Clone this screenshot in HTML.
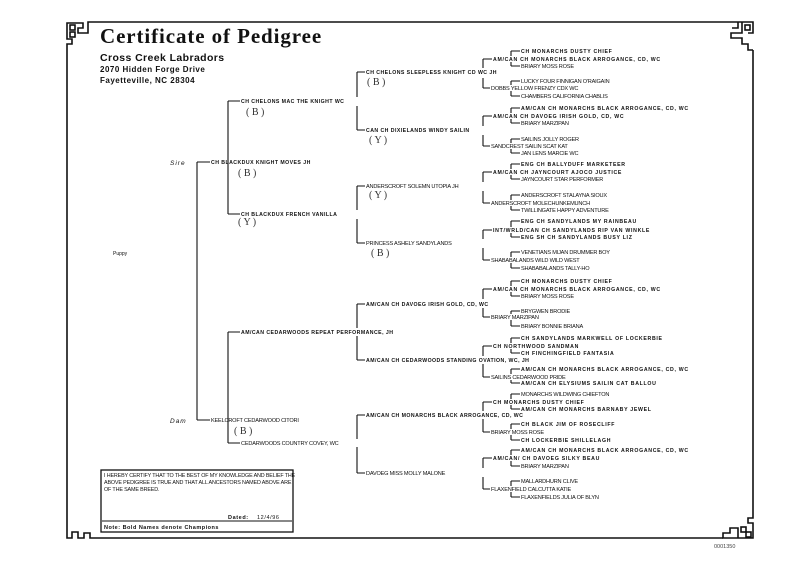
<!DOCTYPE html>
<html><head><meta charset="utf-8"><style>
html,body{margin:0;padding:0;background:#fff;}
svg{display:block}
text{font-family:"Liberation Sans",sans-serif;fill:#111;}
.b{font-size:5.2px;font-weight:bold;letter-spacing:0.45px;}
.c{font-size:5.2px;font-weight:bold;letter-spacing:0.7px;}
.r{font-size:5.6px;letter-spacing:-0.2px;}
.h{font-family:"Liberation Serif",serif;font-size:10px;fill:#333;}
</style></head><body>
<svg width="800" height="581" viewBox="0 0 800 581" xmlns="http://www.w3.org/2000/svg">
<g stroke="#111" fill="none" stroke-width="1.6">
<path d="M97 22 H738"/>
<path d="M67 50 V520"/>
<path d="M753 50 V512"/>
<path d="M95 538 H723"/>
<path d="M67 50 V44 H72 V39 H67 V23 H83 V28 H78 V33 H88 V22 H97"/>
<rect x="70" y="25" width="5" height="5"/><rect x="70" y="32" width="5" height="5"/>
<path d="M738 22 V28 H732 M738 22 H742 V33 H731 V38 H742 V44 H748 V50 H753 M742 22 H753 V33 H748"/>
<rect x="745" y="25" width="5" height="5"/>
<path d="M753 512 V518 H748 V523 H753 V538 H723 V533 H730 V528 H738 V538"/>
<rect x="741" y="527" width="5" height="5"/><rect x="746" y="532" width="5" height="5"/>
<path d="M67 520 V538 H72 V532 H78 V538 H84 V533 H90 V538 H95"/>
</g>
<text x="100" y="43" style="font-family:'Liberation Serif',serif;font-weight:bold;font-size:21px;letter-spacing:0.9px">Certificate of Pedigree</text>
<text x="100" y="61" style="font-size:10.5px;font-weight:bold;letter-spacing:0.4px">Cross Creek Labradors</text>
<text x="100" y="72" style="font-size:8px;font-weight:bold;letter-spacing:0.5px">2070 Hidden Forge Drive</text>
<text x="100" y="83" style="font-size:8px;font-weight:bold;letter-spacing:0.5px">Fayetteville,  NC  28304</text>
<text x="170" y="165" style="font-size:6.5px;font-style:italic;letter-spacing:1px">Sire</text>
<text x="170" y="423" style="font-size:6.5px;font-style:italic;letter-spacing:1px">Dam</text>
<text x="113" y="255" style="font-size:5px">Puppy</text>

<g stroke="#111" fill="none" stroke-width="1.1">
<path d="M197 162 V420 M197 162 H210 M197 420 H210"/>
<path d="M228 101 V214 M228 101 H240 M228 214 H240"/>
<path d="M228 332 V443 M228 332 H240 M228 443 H240"/>
<path d="M357 72 V97 M357 106 V130 M357 72 H365 M357 130 H365"/>
<path d="M357 186 V210 M357 219 V243 M357 186 H365 M357 243 H365"/>
<path d="M357 304 V328 M357 336 V360 M357 304 H365 M357 360 H365"/>
<path d="M357 415 V439 M357 447 V473 M357 415 H365 M357 473 H365"/>
<path d="M483 59 V68 M483 78 V88 M483 59 H492 M483 88 H490"/>
<path d="M483 116 V126 M483 135 V146 M483 116 H492 M483 146 H490"/>
<path d="M483 172 V182 M483 191 V203 M483 172 H492 M483 203 H490"/>
<path d="M483 230 V239 M483 248 V260 M483 230 H492 M483 260 H490"/>
<path d="M483 289 V299 M483 308 V317 M483 289 H492 M483 317 H490"/>
<path d="M483 346 V356 M483 364 V377 M483 346 H492 M483 377 H490"/>
<path d="M483 402 V411 M483 419 V432 M483 402 H492 M483 432 H490"/>
<path d="M483 458 V468 M483 477 V489 M483 458 H492 M483 489 H490"/>
<path d="M511 51 V56 M511 62 V66 M511 51 H520 M511 66 H520"/>
<path d="M511 81 V85 M511 91 V96 M511 81 H520 M511 96 H520"/>
<path d="M511 108 V113 M511 119 V123 M511 108 H520 M511 123 H520"/>
<path d="M511 139 V143 M511 149 V153 M511 139 H520 M511 153 H520"/>
<path d="M511 164 V169 M511 175 V179 M511 164 H520 M511 179 H520"/>
<path d="M511 195 V200 M511 206 V210 M511 195 H520 M511 210 H520"/>
<path d="M511 221 V227 M511 233 V237 M511 221 H520 M511 237 H520"/>
<path d="M511 252 V257 M511 263 V268 M511 252 H520 M511 268 H520"/>
<path d="M511 281 V286 M511 292 V296 M511 281 H520 M511 296 H520"/>
<path d="M511 311 V314 M511 320 V326 M511 311 H520 M511 326 H520"/>
<path d="M511 338 V343 M511 349 V353 M511 338 H520 M511 353 H520"/>
<path d="M511 369 V374 M511 380 V383 M511 369 H520 M511 383 H520"/>
<path d="M511 394 V399 M511 405 V409 M511 394 H520 M511 409 H520"/>
<path d="M511 424 V429 M511 435 V440 M511 424 H520 M511 440 H520"/>
<path d="M511 450 V455 M511 461 V466 M511 450 H520 M511 466 H520"/>
<path d="M511 481 V486 M511 492 V497 M511 481 H520 M511 497 H520"/>
</g>

<text class="b" x="211" y="164">CH BLACKDUX KNIGHT MOVES JH</text>
<text class="r" x="211" y="422">KEELCROFT CEDARWOOD CITORI</text>
<text class="b" x="241" y="103">CH CHELONS MAC THE KNIGHT WC</text>
<text class="b" x="241" y="216">CH BLACKDUX FRENCH VANILLA</text>
<text class="b" x="241" y="334">AM/CAN CEDARWOODS REPEAT PERFORMANCE, JH</text>
<text class="r" x="241" y="445">CEDARWOODS COUNTRY COVEY, WC</text>
<text class="b" x="366" y="74">CH CHELONS SLEEPLESS KNIGHT CD WC JH</text>
<text class="b" x="366" y="132">CAN CH DIXIELANDS WINDY SAILIN</text>
<text class="r" x="366" y="188">ANDERSCROFT SOLEMN UTOPIA JH</text>
<text class="r" x="366" y="245">PRINCESS ASHELY SANDYLANDS</text>
<text class="b" x="366" y="306">AM/CAN CH DAVOEG IRISH GOLD, CD, WC</text>
<text class="b" x="366" y="362">AM/CAN CH CEDARWOODS STANDING OVATION, WC, JH</text>
<text class="b" x="366" y="417">AM/CAN CH MONARCHS BLACK ARROGANCE, CD, WC</text>
<text class="r" x="366" y="475">DAVOEG MISS MOLLY MALONE</text>

<text class="h" x="246" y="115">( B )</text>
<text class="h" x="238" y="176">( B )</text>
<text class="h" x="238" y="225">( Y )</text>
<text class="h" x="234" y="434">( B )</text>
<text class="h" x="367" y="85">( B )</text>
<text class="h" x="369" y="143">( Y )</text>
<text class="h" x="369" y="198">( Y )</text>
<text class="h" x="371" y="256">( B )</text>

<text class="c" x="493" y="61">AM/CAN CH MONARCHS BLACK ARROGANCE, CD, WC</text>
<text class="r" x="491" y="90">DOBBS YELLOW FRENZY CDX WC</text>
<text class="c" x="493" y="118">AM/CAN CH DAVOEG IRISH GOLD, CD, WC</text>
<text class="r" x="491" y="148">SANDCREST SAILIN SCAT KAT</text>
<text class="c" x="493" y="174">AM/CAN CH  JAYNCOURT AJOCO JUSTICE</text>
<text class="r" x="491" y="205">ANDERSCROFT MOLECHUNKEMUNCH</text>
<text class="c" x="493" y="232">INT/WRLD/CAN CH SANDYLANDS RIP VAN WINKLE</text>
<text class="r" x="491" y="262">SHABABALANDS WILD WILD WEST</text>
<text class="c" x="493" y="291">AM/CAN CH MONARCHS BLACK ARROGANCE, CD, WC</text>
<text class="r" x="491" y="319">BRIARY MARZIPAN</text>
<text class="c" x="493" y="348">CH NORTHWOOD SANDMAN</text>
<text class="r" x="491" y="379">SAILINS CEDARWOOD PRIDE</text>
<text class="c" x="493" y="404">CH MONARCHS DUSTY CHIEF</text>
<text class="r" x="491" y="434">BRIARY MOSS ROSE</text>
<text class="c" x="493" y="460">AM/CAN/ CH DAVOEG SILKY BEAU</text>
<text class="r" x="491" y="491">FLAXENFIELD CALCUTTA KATIE</text>

<text class="c" x="521" y="53">CH MONARCHS DUSTY CHIEF</text>
<text class="r" x="521" y="68">BRIARY MOSS ROSE</text>
<text class="r" x="521" y="83">LUCKY FOUR FINNIGAN O'RAIGAIN</text>
<text class="r" x="521" y="98">CHAMBERS CALIFORNIA CHABLIS</text>
<text class="c" x="521" y="110">AM/CAN CH MONARCHS BLACK ARROGANCE, CD, WC</text>
<text class="r" x="521" y="125">BRIARY MARZIPAN</text>
<text class="r" x="521" y="141">SAILINS JOLLY ROGER</text>
<text class="r" x="521" y="155">JAN LENS MARCIE WC</text>
<text class="c" x="521" y="166">ENG CH BALLYDUFF MARKETEER</text>
<text class="r" x="521" y="181">JAYNCOURT STAR PERFORMER</text>
<text class="r" x="521" y="197">ANDERSCROFT STALAYNA SIOUX</text>
<text class="r" x="521" y="212">TWILLINGATE HAPPY ADVENTURE</text>
<text class="c" x="521" y="223">ENG CH SANDYLANDS MY RAINBEAU</text>
<text class="c" x="521" y="239">ENG SH CH SANDYLANDS BUSY LIZ</text>
<text class="r" x="521" y="254">VENETIANS MIJAN DRUMMER BOY</text>
<text class="r" x="521" y="270">SHABABALANDS TALLY-HO</text>
<text class="c" x="521" y="283">CH MONARCHS DUSTY CHIEF</text>
<text class="r" x="521" y="298">BRIARY MOSS ROSE</text>
<text class="r" x="521" y="313">BRYGWEN BRODIE</text>
<text class="r" x="521" y="328">BRIARY BONNIE BRIANA</text>
<text class="c" x="521" y="340">CH SANDYLANDS MARKWELL OF LOCKERBIE</text>
<text class="c" x="521" y="355">CH FINCHINGFIELD FANTASIA</text>
<text class="c" x="521" y="371">AM/CAN CH MONARCHS BLACK ARROGANCE, CD, WC</text>
<text class="c" x="521" y="385">AM/CAN CH ELYSIUMS SAILIN CAT BALLOU</text>
<text class="r" x="521" y="396">MONARCHS WILDWING CHIEFTON</text>
<text class="c" x="521" y="411">AM/CAN CH MONARCHS BARNABY JEWEL</text>
<text class="c" x="521" y="426">CH BLACK JIM OF ROSECLIFF</text>
<text class="c" x="521" y="442">CH LOCKERBIE SHILLELAGH</text>
<text class="c" x="521" y="452">AM/CAN CH MONARCHS BLACK ARROGANCE, CD, WC</text>
<text class="r" x="521" y="468">BRIARY MARZIPAN</text>
<text class="r" x="521" y="483">MALLARDHURN CLIVE</text>
<text class="r" x="521" y="499">FLAXENFIELDS JULIA OF BLYN</text>

<rect x="101" y="470" width="192" height="62" fill="none" stroke="#111" stroke-width="1.3"/>
<line x1="102" y1="521" x2="292" y2="521" stroke="#111" stroke-width="1"/>
<text x="104" y="477" style="font-size:5.4px;letter-spacing:-0.15px">I HEREBY CERTIFY THAT TO THE BEST OF MY KNOWLEDGE AND BELIEF THE</text>
<text x="104" y="484" style="font-size:5.4px;letter-spacing:-0.15px">ABOVE PEDIGREE IS TRUE AND THAT ALL ANCESTORS NAMED ABOVE ARE</text>
<text x="104" y="491" style="font-size:5.4px;letter-spacing:-0.15px">OF THE SAME BREED.</text>
<text x="228" y="519" style="font-size:5.5px;font-weight:bold;letter-spacing:0.6px">Dated:</text>
<text x="257" y="519" style="font-size:5.5px;letter-spacing:0.6px">12/4/96</text>
<text x="104" y="529" style="font-size:5.5px;font-weight:bold;letter-spacing:0.5px">Note:  Bold  Names  denote  Champions</text>
<text x="714" y="548" style="font-size:5.5px;fill:#444">0001350</text>
</svg>
</body></html>
